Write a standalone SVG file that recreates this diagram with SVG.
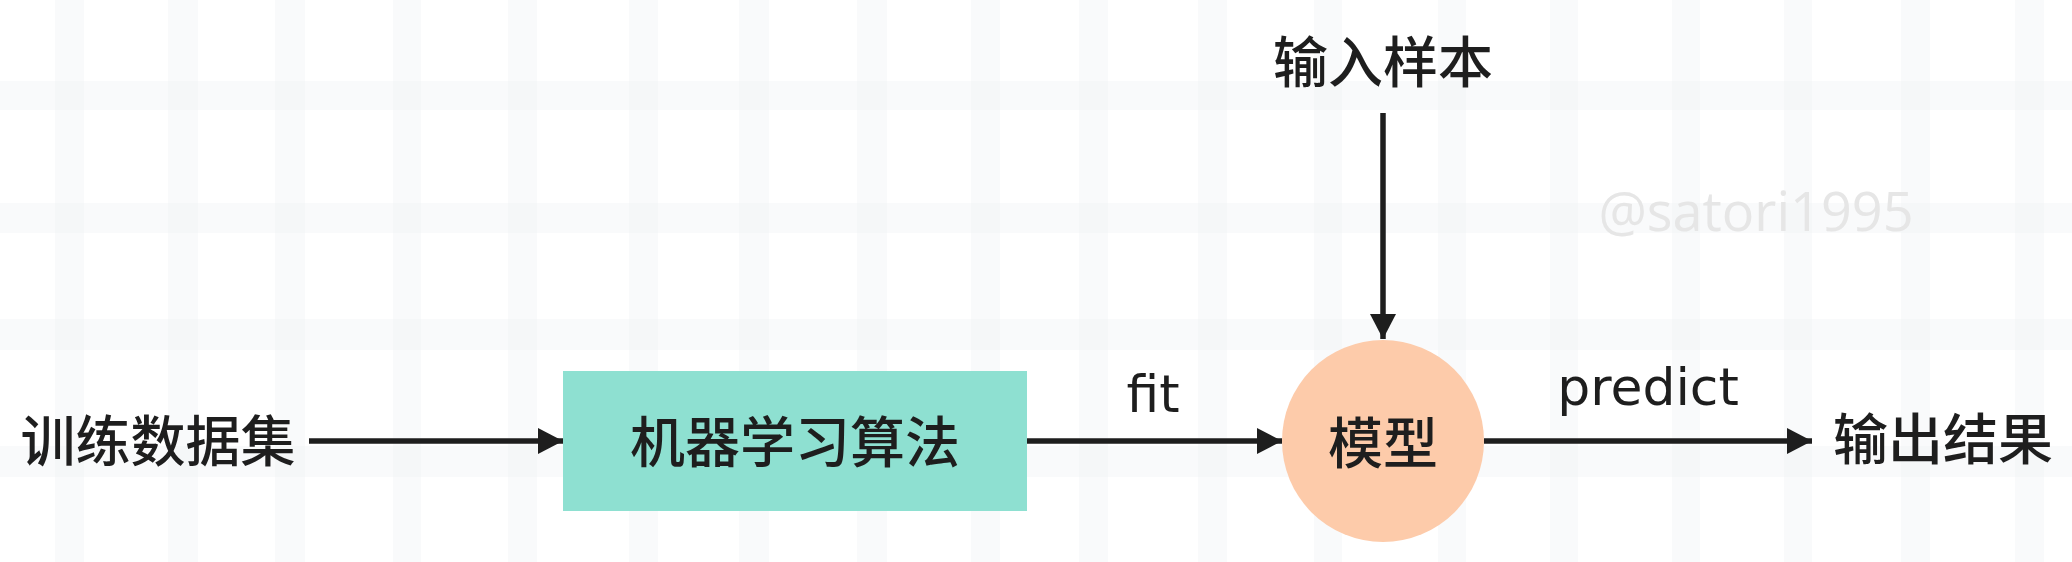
<svg xmlns="http://www.w3.org/2000/svg" width="2072" height="562" viewBox="0 0 2072 562">
<style>
.band{fill:#eef3f5;opacity:0.38}
.cn{font-family:"Noto Sans CJK SC","Noto Sans",sans-serif;font-size:55px;font-weight:500;fill:#1e1e1e;text-anchor:middle}
.lbl{font-family:"DejaVu Sans","Liberation Sans",sans-serif;font-size:52px;fill:#1e1e1e;text-anchor:middle}
.wm{font-family:"Open Sans","Noto Sans",sans-serif;font-size:54px;fill:#e6e6e6;text-anchor:middle}
.conn{stroke:#1e1e1e;stroke-width:5.5;fill:none}
</style>
<defs>
<marker id="ah" markerUnits="userSpaceOnUse" markerWidth="26" markerHeight="28" refX="25" refY="13" orient="auto">
<path d="M0,0 L25,13 L0,26 Z" fill="#1e1e1e"/>
</marker>
</defs>
<rect width="2072" height="562" fill="#ffffff"/>
<g id="grid">
<rect class="band" x="55" y="0" width="29" height="562"/>
<rect class="band" x="168" y="0" width="30" height="562"/>
<rect class="band" x="275" y="0" width="30" height="562"/>
<rect class="band" x="393" y="0" width="28" height="562"/>
<rect class="band" x="508" y="0" width="29" height="562"/>
<rect class="band" x="629" y="0" width="29" height="562"/>
<rect class="band" x="739" y="0" width="30" height="562"/>
<rect class="band" x="857" y="0" width="30" height="562"/>
<rect class="band" x="971" y="0" width="29" height="562"/>
<rect class="band" x="1079" y="0" width="29" height="562"/>
<rect class="band" x="1198" y="0" width="29" height="562"/>
<rect class="band" x="1314" y="0" width="28" height="562"/>
<rect class="band" x="1438" y="0" width="28" height="562"/>
<rect class="band" x="1550" y="0" width="28" height="562"/>
<rect class="band" x="1672" y="0" width="28" height="562"/>
<rect class="band" x="1784" y="0" width="28" height="562"/>
<rect class="band" x="1901" y="0" width="29" height="562"/>
<rect class="band" x="2015" y="0" width="29" height="562"/>
<rect class="band" x="0" y="81" width="2072" height="29"/>
<rect class="band" x="0" y="203" width="2072" height="30"/>
<rect class="band" x="0" y="319" width="2072" height="31"/>
<rect class="band" x="0" y="446" width="2072" height="31"/>
</g>
<text class="wm" x="1756" y="231">@satori1995</text>
<g id="connectors">
<line class="conn" x1="309" y1="441" x2="563" y2="441" marker-end="url(#ah)"/>
<line class="conn" x1="1027" y1="441" x2="1282" y2="441" marker-end="url(#ah)"/>
<line class="conn" x1="1383" y1="113" x2="1383" y2="339" marker-end="url(#ah)"/>
<line class="conn" x1="1484" y1="441" x2="1812" y2="441" marker-end="url(#ah)"/>
<text class="lbl" x="1153" y="412">fit</text>
<text class="lbl" x="1648" y="405">predict</text>
</g>
<g id="train-data">
<text class="cn" x="158" y="461">训练数据集</text>
</g>
<g id="algorithm">
<rect x="563" y="371" width="464" height="140" fill="#8ee0d1"/>
<text class="cn" x="795" y="462">机器学习算法</text>
</g>
<g id="model">
<circle cx="1383" cy="441" r="101" fill="#fdcbaa"/>
<text class="cn" x="1383" y="463">模型</text>
</g>
<g id="input-sample">
<text class="cn" x="1383" y="82">输入样本</text>
</g>
<g id="output">
<text class="cn" x="1943" y="459">输出结果</text>
</g>
</svg>
